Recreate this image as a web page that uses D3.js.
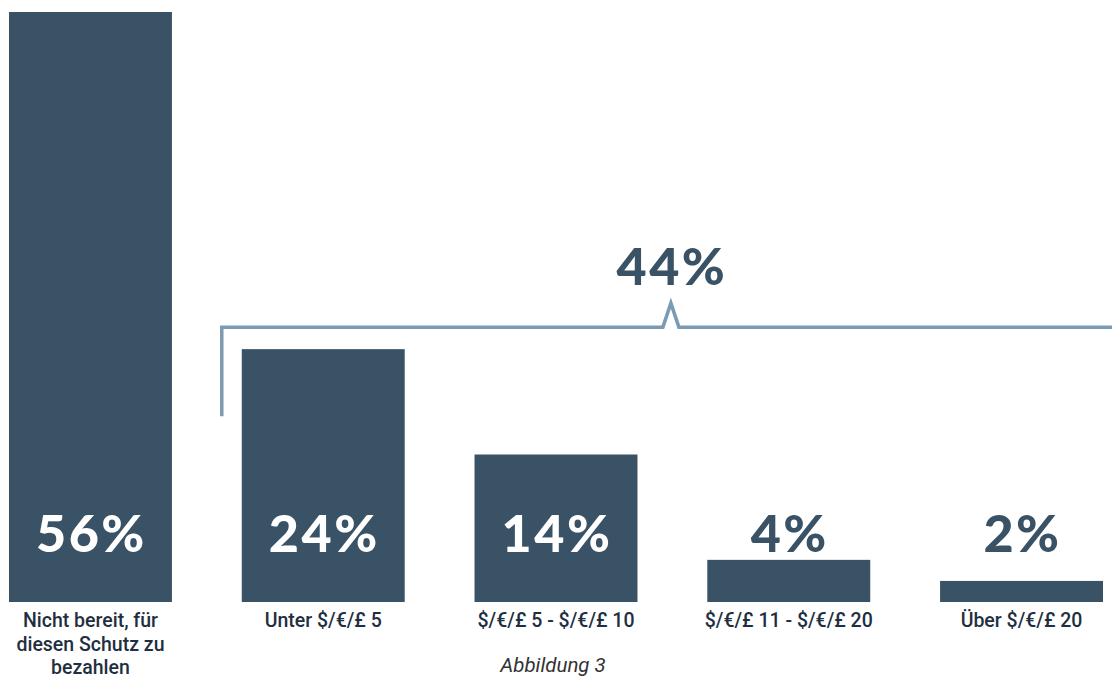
<!DOCTYPE html>
<html lang="de">
<head>
<meta charset="UTF-8">
<title>Abbildung 3</title>
<script src="https://d3js.org/d3.v7.min.js"></script>
<style>
    body { margin: 0; background: #fff; }
    svg { display: block; }
    .cat { font-family: Roboto, sans-serif; font-weight: 500; font-size: 19.5px; fill: #1f2f3f; }
    .val { font-family: Lato, sans-serif; font-weight: 900; font-size: 52px; letter-spacing: 2.5px; }
    .caption { font-family: Roboto, sans-serif; font-style: italic; font-size: 20.5px; fill: #333; }
</style>
</head>
<body>
<svg width="1112" height="679"></svg>
<script>
    // data
    var categories = [
        ["Nicht bereit, für", "diesen Schutz zu", "bezahlen"],
        ["Unter $/€/£ 5"],
        ["$/€/£ 5 - $/€/£ 10"],
        ["$/€/£ 11 - $/€/£ 20"],
        ["Über $/€/£ 20"]
    ];
    var values = [56, 24, 14, 4, 2];
    var bracketLabel = "44%";
    var caption = "Abbildung 3";

    var barColor = "#3a5266";
    var svg = d3.select("svg");

    var x = d3.scaleBand()
        .domain(d3.range(values.length))
        .range([9, 1103])
        .paddingInner(0.3)
        .paddingOuter(0);

    var y = d3.scaleLinear()
        .domain([0, 56])
        .range([602, 12]);

    // bars
    svg.selectAll("rect.bar")
        .data(values)
        .enter().append("rect")
        .attr("class", "bar")
        .attr("x", (d, i) => x(i))
        .attr("y", d => y(d))
        .attr("width", x.bandwidth())
        .attr("height", d => y(0) - y(d))
        .attr("fill", barColor);

    // value labels, white inside tall bars, dark above short ones
    var labelBase = 552;
    svg.selectAll("text.val")
        .data(values)
        .enter().append("text")
        .attr("class", "val")
        .attr("x", (d, i) => x(i) + x.bandwidth() / 2 + 1)
        .attr("y", labelBase)
        .attr("text-anchor", "middle")
        .attr("fill", d => y(d) < labelBase - 45 ? "#fff" : barColor)
        .text(d => d + "%");

    // category labels
    var cats = svg.selectAll("text.cat")
        .data(categories)
        .enter().append("text")
        .attr("class", "cat")
        .attr("text-anchor", "middle")
        .attr("x", (d, i) => x(i) + x.bandwidth() / 2)
        .attr("y", 627);
    cats.selectAll("tspan")
        .data(d => d)
        .enter().append("tspan")
        .attr("x", function() { return d3.select(this.parentNode).attr("x"); })
        .attr("dy", (d, i) => i ? 23.5 : 0)
        .text(d => d);

    // bracket over the paying groups
    var bx0 = x(1) - 20,
        bx1 = x(4) + x.bandwidth() + 17,
        by = y(values[1]) - 22,
        mid = (bx0 + bx1) / 2;
    svg.append("path")
        .attr("d", "M" + bx0 + "," + (by + 89) + "V" + by + "H" + (mid - 8) +
            "L" + mid + "," + (by - 24) + "L" + (mid + 8) + "," + by + "H" + bx1)
        .attr("fill", "none")
        .attr("stroke", "#7a9bb3")
        .attr("stroke-width", 3.5);

    svg.append("text")
        .attr("class", "val")
        .attr("x", mid + 1)
        .attr("y", 285)
        .attr("text-anchor", "middle")
        .attr("fill", barColor)
        .text(bracketLabel);

    svg.append("text")
        .attr("class", "caption")
        .attr("x", 553)
        .attr("y", 672)
        .attr("text-anchor", "middle")
        .text(caption);
</script>
</body>
</html>
